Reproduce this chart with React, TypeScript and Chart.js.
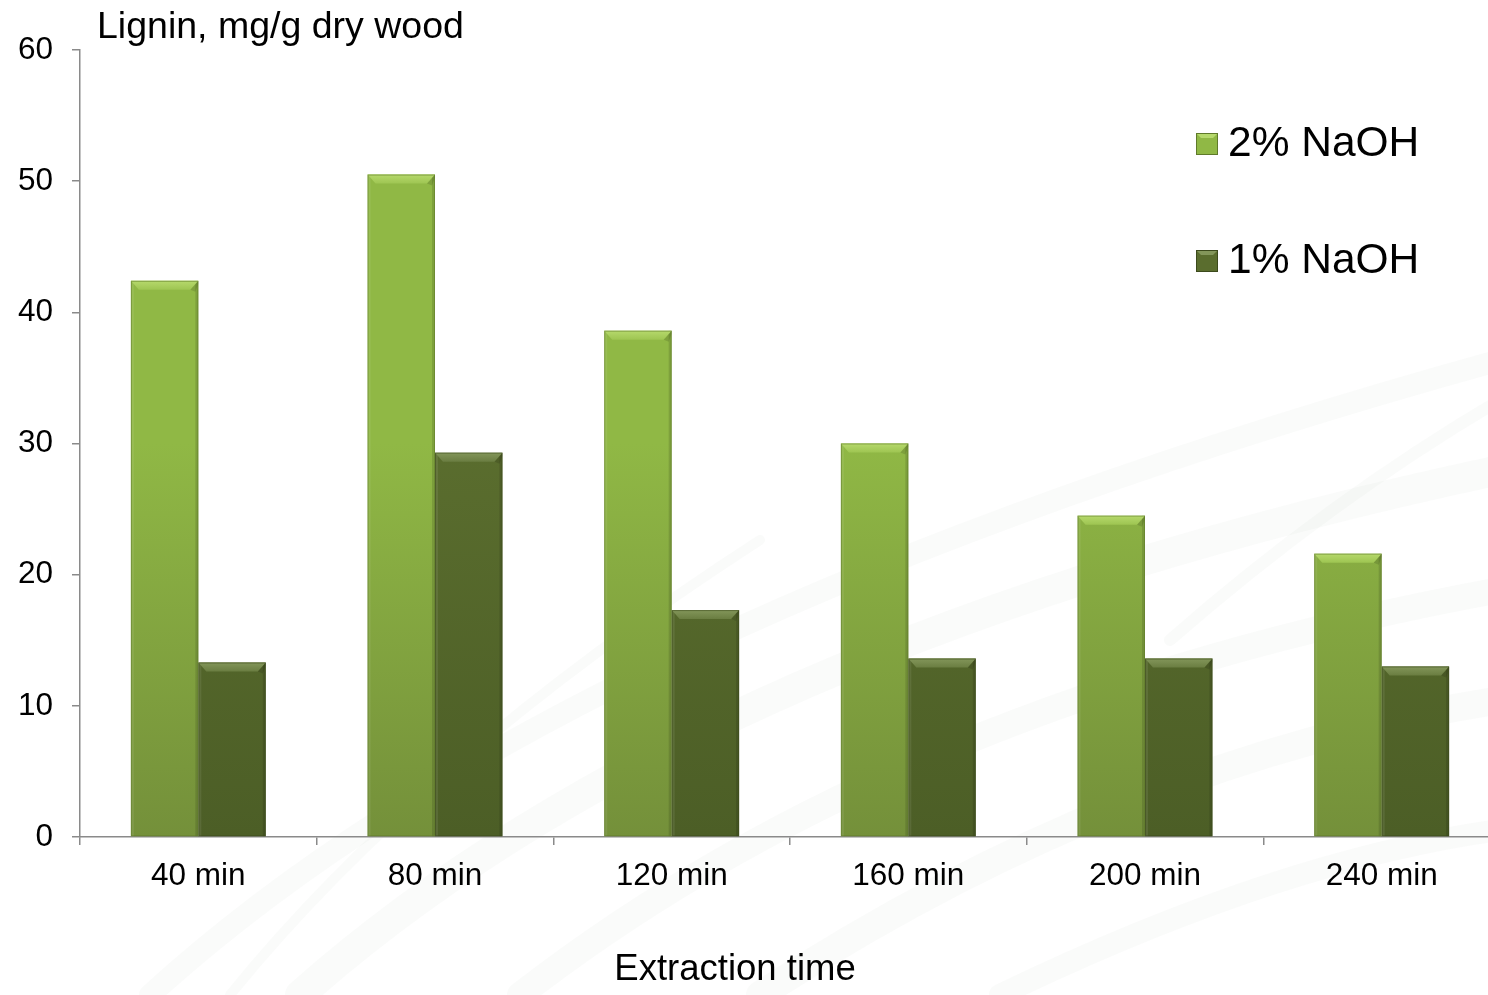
import { useEffect, useRef } from "react";
import { Chart, registerables } from "chart.js";

Chart.register(...registerables);

const categories = ["40 min", "80 min", "120 min", "160 min", "200 min", "240 min"];
const naoh2 = [42.4, 50.5, 38.6, 30.0, 24.5, 21.6];
const naoh1 = [13.3, 29.3, 17.3, 13.6, 13.6, 13.0];
const seriesLabels = ["2% NaOH", "1% NaOH"];
const yMin = 0;
const yMax = 60;
const yStep = 10;
const yTitle = "Lignin, mg/g dry wood";
const xTitle = "Extraction time";

const FONT = "'Liberation Sans', Arial, Helvetica, sans-serif";

const palettes = [
  { top: "#90b845", bottom: "#74903a", bevel: "#b6d96c", bevelDark: "#9ec552", edge: "#5f7a2a" },
  { top: "#5a6d2e", bottom: "#4c5e26", bevel: "#83965a", bevelDark: "#6a7d41", edge: "#3c4a1c" },
];

function bodyGradient(ctx: any, i: number) {
  const chart = ctx.chart;
  const area = chart.chartArea;
  const p = palettes[i];
  if (!area) return p.top;
  const g = chart.ctx.createLinearGradient(0, area.top, 0, area.bottom);
  g.addColorStop(0, p.top);
  g.addColorStop(0.5, p.top);
  g.addColorStop(1, p.bottom);
  return g;
}

const backgroundPlugin = {
  id: "bgSwoosh",
  beforeDraw(chart: any) {
    const c = chart.ctx;
    c.save();
    c.fillStyle = "#ffffff";
    c.fillRect(0, 0, chart.width, chart.height);
    const curves = [
      [150, 995, 560, 620, 1500, 360, 22],
      [300, 995, 700, 640, 1500, 470, 30],
      [520, 995, 900, 700, 1500, 590, 26],
      [760, 995, 1120, 760, 1500, 700, 28],
      [1000, 995, 1280, 860, 1500, 830, 22],
      [1170, 640, 1330, 500, 1500, 400, 12],
      [230, 995, 420, 760, 760, 540, 10],
    ];
    c.lineCap = "round";
    for (const [x0, y0, cx, cy, x1, y1, w] of curves) {
      c.beginPath();
      c.moveTo(x0, y0);
      c.quadraticCurveTo(cx, cy, x1, y1);
      c.strokeStyle = "rgba(120,130,120,0.035)";
      c.lineWidth = w;
      c.stroke();
    }
    c.restore();
  },
};

const bevelPlugin = {
  id: "bevelBars",
  afterDatasetsDraw(chart: any) {
    const c = chart.ctx;
    c.save();
    chart.data.datasets.forEach((_: any, di: number) => {
      const meta = chart.getDatasetMeta(di);
      const p = palettes[di];
      meta.data.forEach((el: any) => {
        const { x, y, width, base } = el.getProps(["x", "y", "width", "base"], true);
        const l = x - width / 2;
        const r = x + width / 2;
        const bh = 9;
        const inset = 8;
        c.fillStyle = "rgba(255,255,255,0.08)";
        c.fillRect(l, y, 3, base - y);
        c.fillStyle = "rgba(0,0,0,0.12)";
        c.fillRect(r - 3, y, 3, base - y);
        const g = c.createLinearGradient(0, y, 0, y + bh);
        g.addColorStop(0, p.bevel);
        g.addColorStop(1, p.bevelDark);
        c.beginPath();
        c.moveTo(l, y);
        c.lineTo(r, y);
        c.lineTo(r - inset, y + bh);
        c.lineTo(l + inset, y + bh);
        c.closePath();
        c.fillStyle = g;
        c.fill();
        c.beginPath();
        c.moveTo(r, y);
        c.lineTo(r - inset, y + bh);
        c.lineTo(r - 3, y + bh + 2);
        c.lineTo(r, y + 3);
        c.closePath();
        c.fillStyle = "rgba(0,0,0,0.12)";
        c.fill();
        c.strokeStyle = p.edge;
        c.globalAlpha = 0.55;
        c.lineWidth = 1;
        c.strokeRect(l + 0.5, y + 0.5, width - 1, base - y - 1);
        c.globalAlpha = 1;
      });
    });
    c.restore();
  },
};

const textPlugin = {
  id: "texts",
  afterDraw(chart: any) {
    const c = chart.ctx;
    c.save();
    c.fillStyle = "#000000";
    c.textBaseline = "alphabetic";
    c.font = `37.5px ${FONT}`;
    c.textAlign = "left";
    c.fillText(yTitle, 97, 38);
    c.font = `36.5px ${FONT}`;
    c.textAlign = "center";
    c.fillText(xTitle, 735, 980);
    c.font = `42.5px ${FONT}`;
    c.textAlign = "left";
    chart.data.datasets.forEach((ds: any, i: number) => {
      const p = palettes[i];
      const top = 133 + i * 117;
      const mx = 1196;
      const s = 22;
      c.fillStyle = p.top;
      c.fillRect(mx, top, s, s);
      c.beginPath();
      c.moveTo(mx, top);
      c.lineTo(mx + s, top);
      c.lineTo(mx + s - 5, top + 5);
      c.lineTo(mx + 5, top + 5);
      c.closePath();
      c.fillStyle = p.bevel;
      c.fill();
      c.strokeStyle = p.edge;
      c.lineWidth = 1;
      c.strokeRect(mx + 0.5, top + 0.5, s - 1, s - 1);
      c.fillStyle = "#000000";
      c.fillText(ds.label, 1228, 156 + i * 117);
    });
    c.restore();
  },
};

export default function App() {
  const ref = useRef<HTMLCanvasElement | null>(null);

  useEffect(() => {
    if (!ref.current) return;
    const chart = new Chart(ref.current, {
      type: "bar",
      data: {
        labels: categories,
        datasets: [
          {
            label: seriesLabels[0],
            data: naoh2,
            backgroundColor: (ctx: any) => bodyGradient(ctx, 0),
            borderWidth: 0,
            categoryPercentage: 0.57,
            barPercentage: 1.0,
          },
          {
            label: seriesLabels[1],
            data: naoh1,
            backgroundColor: (ctx: any) => bodyGradient(ctx, 1),
            borderWidth: 0,
            categoryPercentage: 0.57,
            barPercentage: 1.0,
          },
        ],
      },
      options: {
        responsive: false,
        animation: false,
        devicePixelRatio: 1,
        layout: { padding: { top: 50, left: 0, right: 0, bottom: 0 } },
        plugins: {
          legend: { display: false },
          tooltip: { enabled: false },
          title: { display: false },
        },
        scales: {
          x: {
            grid: {
              display: true,
              drawOnChartArea: false,
              offset: true,
              tickLength: 8,
              color: "#8a8a8a",
              lineWidth: 1.5,
            },
            border: { color: "#8a8a8a", width: 1.5 },
            ticks: {
              color: "#000000",
              font: { family: FONT, size: 31.5 },
              padding: 12,
              maxRotation: 0,
            },
            afterFit: (scale: any) => {
              scale.height = 158;
            },
          },
          y: {
            min: yMin,
            max: yMax,
            grid: {
              display: true,
              drawOnChartArea: false,
              tickLength: 8,
              color: "#8a8a8a",
              lineWidth: 1.5,
            },
            border: { color: "#8a8a8a", width: 1.5 },
            ticks: {
              stepSize: yStep,
              color: "#000000",
              font: { family: FONT, size: 31.5 },
              padding: 19,
            },
            afterFit: (scale: any) => {
              scale.width = 80;
            },
          },
        },
      },
      plugins: [backgroundPlugin, bevelPlugin, textPlugin],
    });
    return () => chart.destroy();
  }, []);

  return (
    <div
      style={{
        position: "absolute",
        left: 0,
        top: 0,
        width: 1488,
        height: 995,
        overflow: "hidden",
        background: "#ffffff",
      }}
    >
      <canvas ref={ref} width={1500} height={995} style={{ display: "block" }} />
    </div>
  );
}
